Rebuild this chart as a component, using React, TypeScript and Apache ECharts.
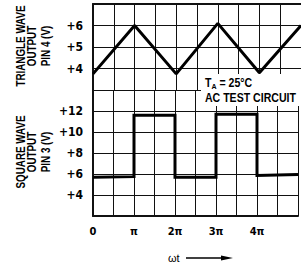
import React, { useEffect, useRef } from "react";
import * as echarts from "echarts";

// x positions in units of π
const xTickLabels = ["0", "π", "2π", "3π", "4π"];
const topYLabels: Record<number, string> = { 4: "+4", 5: "+5", 6: "+6" };
const bottomYLabels: Record<number, string> = { 4: "+4", 6: "+6", 8: "+8", 10: "+10", 12: "+12" };

const triangleX = [0, 1, 2, 3, 4, 5];
const triangleY = [3.75, 6.0, 3.75, 6.1, 3.8, 6.0];

const squareX = [0, 1, 1, 2, 2, 3, 3, 4, 4, 5];
const squareY = [5.7, 5.75, 11.6, 11.6, 5.7, 5.7, 11.7, 11.7, 5.85, 5.95];

const FONT = "'DejaVu Sans Condensed', 'Liberation Sans Narrow', sans-serif";
const TFONT = "'Liberation Sans', Arial, sans-serif";

export default function App() {
  const ref = useRef<HTMLDivElement>(null);
  useEffect(() => {
    if (!ref.current) return;
    const chart = echarts.init(ref.current, null, { renderer: "svg" });
    const lineCol = "#111";
    const xAxisBase = (gi: number, pos: "top" | "bottom", showLabel: boolean) => ({
      type: "value",
      gridIndex: gi,
      min: 0,
      max: 5,
      interval: 0.5,
      position: pos,
      axisLine: { show: true, lineStyle: { color: lineCol, width: 2 } },
      axisTick: { show: false },
      splitLine: { show: true, lineStyle: { color: lineCol, width: 1 } },
      axisLabel: {
        show: showLabel,
        margin: 10,
        color: "#000",
        fontFamily: FONT,
        fontWeight: "bold",
        fontSize: 11,
        formatter: (v: number) =>
          Number.isInteger(v) && xTickLabels[v] !== undefined ? xTickLabels[v] : "",
      },
    });
    const yAxisBase = (gi: number, min: number, max: number, interval: number, labels: Record<number, string>) => ({
      type: "value",
      gridIndex: gi,
      min,
      max,
      interval,
      axisLine: { show: true, lineStyle: { color: lineCol, width: 2 } },
      axisTick: { show: false },
      splitLine: { show: true, lineStyle: { color: lineCol, width: 1 } },
      axisLabel: {
        margin: 10,
        color: "#000",
        fontFamily: FONT,
        fontWeight: "bold",
        fontSize: 12,
        formatter: (v: number) => labels[v] ?? "",
      },
    });
    const title = (lines: string[], xs: number[], cy: number) =>
      lines.map((t, i) => ({
        type: "text",
        x: xs[i],
        y: cy,
        rotation: Math.PI / 2,
        scaleX: 0.82,
        z: 100,
        style: {
          text: t,
          fontFamily: TFONT,
          fontWeight: "bold",
          fontSize: 12,
          fill: "#000",
          textAlign: "center",
          textVerticalAlign: "middle",
        },
      }));
    chart.setOption({
      animation: false,
      grid: [
        { left: 93, right: -7, top: 4, height: 86 },
        { left: 93, right: -7, top: 90, height: 126 },
      ],
      xAxis: [xAxisBase(0, "top", false), xAxisBase(1, "bottom", true)],
      yAxis: [yAxisBase(0, 3, 7, 1, topYLabels), yAxisBase(1, 2, 14, 2, bottomYLabels)],
      series: [
        {
          type: "line",
          xAxisIndex: 0,
          yAxisIndex: 0,
          data: triangleX.map((x, i) => [x, triangleY[i]]),
          symbol: "none",
          lineStyle: { color: "#000", width: 3 },
        },
        {
          type: "line",
          xAxisIndex: 1,
          yAxisIndex: 1,
          data: squareX.map((x, i) => [x, squareY[i]]),
          symbol: "none",
          lineStyle: { color: "#000", width: 3, join: "miter" },
        },
      ],
      graphic: [
        { type: "rect", z: 99, shape: { x: 201, y: 74, width: 110, height: 32 }, style: { fill: "#fff" } },
        {
          type: "text",
          z: 100,
          x: 205,
          y: 83,
          scaleX: 0.88,
          style: {
            text: "{a|T}{s|A}{a| = 25°C}",
            fill: "#000",
            textVerticalAlign: "middle",
            rich: {
              a: { fontFamily: TFONT, fontWeight: "bold", fontSize: 12, fill: "#000" },
              s: { fontFamily: TFONT, fontWeight: "bold", fontSize: 8, fill: "#000", padding: [6, 0, 0, 0] },
            },
          },
        },
        {
          type: "text",
          z: 100,
          x: 205,
          y: 98,
          scaleX: 0.88,
          style: {
            text: "AC TEST CIRCUIT",
            fontFamily: TFONT,
            fontWeight: "bold",
            fontSize: 12,
            fill: "#000",
            textVerticalAlign: "middle",
          },
        },
        ...title(["TRIANGLE WAVE", "OUTPUT", "PIN 4 (V)"], [20.5, 32, 46], 46),
        ...title(["SQUARE WAVE", "OUTPUT", "PIN 3 (V)"], [20.5, 32, 46], 152),
        {
          type: "text",
          z: 100,
          x: 168,
          y: 258,
          style: { text: "ωt", fontFamily: TFONT, fontSize: 11, fill: "#000", textVerticalAlign: "middle" },
        },
        { type: "line", z: 100, shape: { x1: 186, y1: 258, x2: 224, y2: 258 }, style: { stroke: "#000", lineWidth: 1.3 } },
        { type: "polygon", z: 100, shape: { points: [[221, 255.5], [233, 258], [221, 260.5]] }, style: { fill: "#000" } },
      ],
    });
    return () => chart.dispose();
  }, []);
  return <div ref={ref} style={{ position: "fixed", left: 0, top: 0, width: 301, height: 267, background: "#fff" }} />;
}
